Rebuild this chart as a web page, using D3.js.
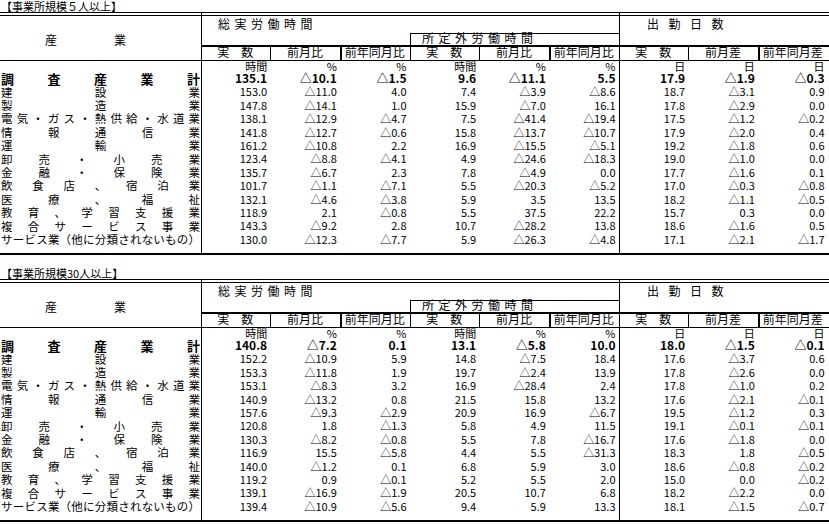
<!DOCTYPE html>
<html lang="ja">
  <head>
    <meta charset="utf-8">
    <title>事業所規模別 労働時間・出勤日数</title>
    <script src="https://d3js.org/d3.v7.min.js"></script>
    <style>
      body { margin: 0; background: #fff; }
      svg text { font-family: "Noto Sans CJK JP", sans-serif; fill: #000; }
      .ln { stroke: #000; shape-rendering: crispEdges; }
    </style>
  </head>
  <body>
    <div id="main"></div>
    <script>
      // industries (rows)
      var industries = ["調査産業計", "建設業", "製造業", "電気・ガス・熱供給・水道業", "情報通信業", "運輸業",
        "卸売・小売業", "金融・保険業", "飲食店、宿泊業", "医療、福祉", "教育、学習支援業", "複合サービス事業",
        "サービス業（他に分類されないもの）"];
      var colKeys = ["total", "totalMoM", "totalYoY", "over", "overMoM", "overYoY", "days", "daysMoM", "daysYoY"];
      var colHeads = ["実　数", "前月比", "前年同月比", "実　数", "前月比", "前年同月比", "実　数", "前月差", "前年同月差"];
      var units = ["時間", "%", "%", "時間", "%", "%", "日", "日", "日"];

      // 事業所規模5人以上
      var total5    = [135.1, 153.0, 147.8, 138.1, 141.8, 161.2, 123.4, 135.7, 101.7, 132.1, 118.9, 143.3, 130.0];
      var totalMoM5 = [-10.1, -11.0, -14.1, -12.9, -12.7, -10.8, -8.8, -6.7, -1.1, -4.6, 2.1, -9.2, -12.3];
      var totalYoY5 = [-1.5, 4.0, 1.0, -4.7, -0.6, 2.2, -4.1, 2.3, -7.1, -3.8, -0.8, 2.8, -7.7];
      var over5     = [9.6, 7.4, 15.9, 7.5, 15.8, 16.9, 4.9, 7.8, 5.5, 5.9, 5.5, 10.7, 5.9];
      var overMoM5  = [-11.1, -3.9, -7.0, -41.4, -13.7, -15.5, -24.6, -4.9, -20.3, 3.5, 37.5, -28.2, -26.3];
      var overYoY5  = [5.5, -8.6, 16.1, -19.4, -10.7, -5.1, -18.3, 0.0, -5.2, 13.5, 22.2, 13.8, -4.8];
      var days5     = [17.9, 18.7, 17.8, 17.5, 17.9, 19.2, 19.0, 17.7, 17.0, 18.2, 15.7, 18.6, 17.1];
      var daysMoM5  = [-1.9, -3.1, -2.9, -1.2, -2.0, -1.8, -1.0, -1.6, -0.3, -1.1, 0.3, -1.6, -2.1];
      var daysYoY5  = [-0.3, 0.9, 0.0, -0.2, 0.4, 0.6, 0.0, 0.1, -0.8, -0.5, 0.0, 0.5, -1.7];

      // 事業所規模30人以上
      var total30    = [140.8, 152.2, 153.3, 153.1, 140.9, 157.6, 120.8, 130.3, 116.9, 140.0, 119.2, 139.1, 139.4];
      var totalMoM30 = [-7.2, -10.9, -11.8, -8.3, -13.2, -9.3, 1.8, -8.2, 15.5, -1.2, 0.9, -16.9, -10.9];
      var totalYoY30 = [0.1, 5.9, 1.9, 3.2, 0.8, -2.9, -1.3, -0.8, -5.8, 0.1, -0.1, -1.9, -5.6];
      var over30     = [13.1, 14.8, 19.7, 16.9, 21.5, 20.9, 5.8, 5.5, 4.4, 6.8, 5.2, 20.5, 9.4];
      var overMoM30  = [-5.8, -7.5, -2.4, -28.4, 15.8, 16.9, 4.9, 7.8, 5.5, 5.9, 5.5, 10.7, 5.9];
      var overYoY30  = [10.0, 18.4, 13.9, 2.4, 13.2, -6.7, 11.5, -16.7, -31.3, 3.0, 2.0, 6.8, 13.3];
      var days30     = [18.0, 17.6, 17.8, 17.8, 17.6, 19.5, 19.1, 17.6, 18.3, 18.6, 15.0, 18.2, 18.1];
      var daysMoM30  = [-1.5, -3.7, -2.6, -1.0, -2.1, -1.2, -0.1, -1.8, 1.8, -0.8, 0.0, -2.2, -1.5];
      var daysYoY30  = [-0.1, 0.6, 0.0, 0.2, -0.1, 0.3, -0.1, 0.0, -0.5, -0.2, -0.2, 0.0, -0.7];

      var tables = [
        { title: "【事業所規模５人以上】", top: 0,
          cols: [total5, totalMoM5, totalYoY5, over5, overMoM5, overYoY5, days5, daysMoM5, daysYoY5] },
        { title: "【事業所規模30人以上】", top: 267,
          cols: [total30, totalMoM30, totalYoY30, over30, overMoM30, overYoY30, days30, daysMoM30, daysYoY30] }
      ];

      var width = 829, height = 525;
      var svg = d3.select("#main").append("svg")
        .attr("width", width)
        .attr("height", height);

      var x = d3.scaleBand().domain(colKeys).range([200.5, 827.5]);
      var y = d3.scaleBand().domain(industries).range([72.5, 72.5 + 13 * 13.4]);
      var edge = function(i) { return Math.round(x.range()[0] + i * x.step()) + 0.5; };
      var fmt = function(v) { return (v < 0 ? "△" : "") + Math.abs(v).toFixed(1); };

      function hline(g, y0, x1, x2, w) {
        g.append("line").attr("class", "ln").attr("x1", x1).attr("x2", x2)
          .attr("y1", y0).attr("y2", y0).attr("stroke-width", w || 1);
      }
      function vline(g, x0, y1, y2, w) {
        g.append("line").attr("class", "ln").attr("x1", x0).attr("x2", x0)
          .attr("y1", y1).attr("y2", y2).attr("stroke-width", w || 1);
      }

      tables.forEach(function(t) {
        var g = svg.append("g").attr("transform", "translate(0," + t.top + ")");

        g.append("text").attr("x", 1).attr("y", 7).attr("dy", "0.35em")
          .style("font-size", "11px").text(t.title);

        // frame lines
        hline(g, 12.5, 0, width);
        hline(g, 15.5, 0, width);
        vline(g, edge(0), 12, 254);
        vline(g, edge(6), 12, 254);
        hline(g, 33.5, edge(3), edge(6));
        vline(g, edge(3), 33, 60);
        hline(g, 46, edge(0), width, 2);
        hline(g, 60.5, 0, width);
        hline(g, 254, 0, width, 2);
        [1, 2, 4, 5, 7, 8].forEach(function(i) {
          var thick = (i === 2 || i === 5 || i === 8);
          vline(g, thick ? edge(i) + 0.5 : edge(i), 46, 60, thick ? 2 : 1);
        });

        // group headers
        g.append("text").attr("x", 218).attr("y", 25).attr("dy", "0.35em")
          .style("font-size", "12px").style("letter-spacing", "4.5px").text("総実労働時間");
        g.append("text").attr("x", 422).attr("y", 39).attr("dy", "0.35em")
          .style("font-size", "12px").style("letter-spacing", "4.5px").text("所定外労働時間");
        g.append("text").attr("x", 647).attr("y", 25).attr("dy", "0.35em")
          .style("font-size", "12px").style("letter-spacing", "9.5px").text("出勤日数");
        g.append("text").attr("x", 45).attr("y", 41).attr("dy", "0.35em")
          .style("font-size", "12px").text("産");
        g.append("text").attr("x", 114).attr("y", 41).attr("dy", "0.35em")
          .style("font-size", "12px").text("業");

        // column heads and units
        g.selectAll(".head").data(colKeys).enter().append("text")
          .attr("class", "head")
          .attr("x", function(d) { return x(d) + x.bandwidth() / 2; })
          .attr("y", 53).attr("dy", "0.35em")
          .attr("text-anchor", "middle")
          .style("font-size", "12px")
          .text(function(d, i) { return colHeads[i]; });
        g.selectAll(".unit").data(colKeys).enter().append("text")
          .attr("class", "unit")
          .attr("x", function(d) { return x(d) + x.bandwidth() - 3; })
          .attr("y", 67).attr("dy", "0.35em")
          .attr("text-anchor", "end")
          .style("font-size", "11px")
          .text(function(d, i) { return units[i]; });

        // row labels, spread over the label column
        industries.forEach(function(name, r) {
          var chars = Array.from(name);
          var fs = r === 0 ? 13 : 11.5;
          var step = (200 - fs - 1) / (chars.length - 1);
          g.append("g").selectAll("text").data(chars).enter().append("text")
            .attr("x", function(c, i) { return 1 + i * step; })
            .attr("y", y(name) + y.bandwidth() / 2)
            .attr("dy", "0.35em")
            .style("font-size", fs + "px")
            .style("font-weight", r === 0 ? "bold" : "normal")
            .text(function(c) { return c; });
        });

        // values
        colKeys.forEach(function(k, ci) {
          g.append("g").selectAll("text").data(t.cols[ci]).enter().append("text")
            .attr("x", x(k) + x.bandwidth() - 3)
            .attr("y", function(d, r) { return y(industries[r]) + y.bandwidth() / 2; })
            .attr("dy", "0.35em")
            .attr("text-anchor", "end")
            .style("font-size", function(d, r) { return r === 0 ? "12px" : "11px"; })
            .style("font-weight", function(d, r) { return r === 0 ? "bold" : "normal"; })
            .text(fmt);
        });
      });
    </script>
  </body>
</html>
